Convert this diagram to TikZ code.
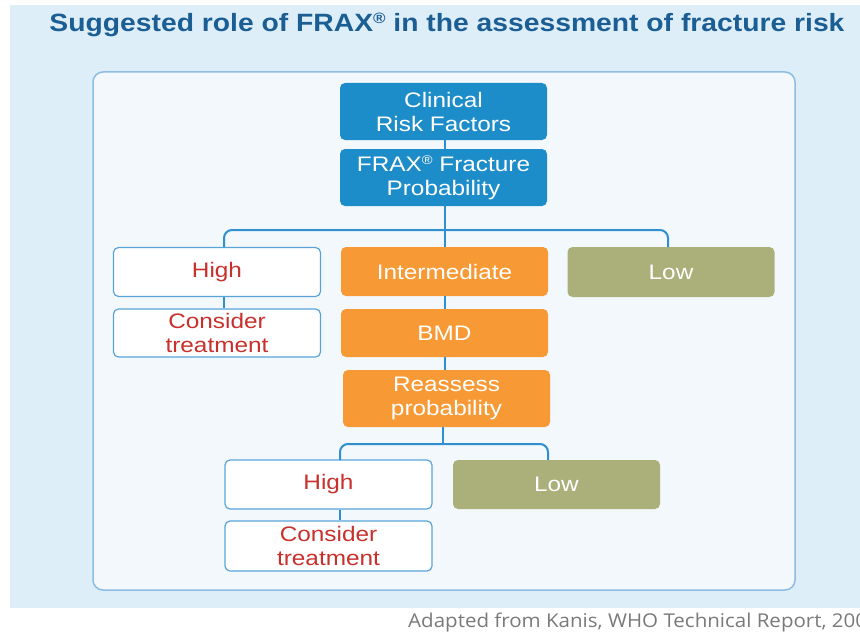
\documentclass[tikz,border=0pt]{standalone}
\usepackage{fontspec}
\usepackage{graphicx}
\setmainfont{Liberation Sans}
\newfontfamily\boxfont[FakeStretch=1.16]{Liberation Sans}
\newfontfamily\notefont[FakeStretch=1.08]{Open Sans}
\newcommand{\regmark}{\raisebox{0.62ex}{\scalebox{0.6}{\textregistered}}}

\definecolor{panelbg}{HTML}{DDEEF9}
\definecolor{innerbg}{HTML}{F3F8FD}
\definecolor{innerline}{HTML}{8DBDE3}
\definecolor{titleblue}{HTML}{1B5E93}
\definecolor{boxblue}{HTML}{1D8DC9}
\definecolor{boxorange}{HTML}{F79A36}
\definecolor{boxolive}{HTML}{ABB07B}
\definecolor{riskred}{HTML}{C8302C}
\definecolor{wireblue}{HTML}{2F8FD0}
\definecolor{edgeblue}{HTML}{5AA3D9}
\definecolor{notegray}{HTML}{7A7A7A}

\tikzset{
  card/.style={rounded corners=5pt, minimum width=207pt, inner sep=0pt,
    align=center, font=\boxfont\fontsize{21}{24}\selectfont},
  bluecard/.style={card, fill=boxblue, text=white, minimum height=57pt},
  orangecard/.style={card, fill=boxorange, text=white},
  olivecard/.style={card, fill=boxolive, text=white, minimum height=50pt},
  whitecard/.style={card, fill=white, draw=edgeblue, line width=1.2pt, text=riskred, minimum height=49pt},
  wire/.style={draw=wireblue, line width=2pt},
}

\begin{document}
\begin{tikzpicture}[x=1pt, y=-1pt]
  \useasboundingbox (0,0) rectangle (860,634);
  % page backdrop
  \fill[white] (0,0) rectangle (860,634);
  \fill[panelbg] (10,5) rectangle (860,608);
  % inner frame
  \draw[innerline, fill=innerbg, line width=1.5pt, rounded corners=10pt] (93,72) rectangle (795,590);

  % heading
  \node[text=titleblue, font=\bfseries\fontsize{25}{30}\selectfont] (title) at (447,25)
    {\resizebox{795pt}{\height}{Suggested role of FRAX\regmark{} in the assessment of fracture risk}};

  % top chain
  \node[bluecard] (crf) at (443.5,111.5) {Clinical\\Risk Factors};
  \node[bluecard] (frax) at (443.5,177.5) {FRAX\regmark{} Fracture\\Probability};

  % first branch level
  \node[whitecard] (high1) at (217,272) {High};
  \node[orangecard, minimum height=49pt] (inter) at (444.5,271.5) {Intermediate};
  \node[olivecard] (low1) at (671,272) {Low};

  \node[whitecard, minimum height=48pt] (treat1) at (217,333) {Consider\\treatment};
  \node[orangecard, minimum height=48pt] (bmd) at (444.5,333) {BMD};
  \node[orangecard, minimum height=57pt] (reass) at (446.5,398.5) {Reassess\\probability};

  % second branch level
  \node[whitecard] (high2) at (328.5,484.5) {High};
  \node[olivecard, minimum height=49pt] (low2) at (556.5,484.5) {Low};
  \node[whitecard, minimum height=50pt] (treat2) at (328.5,546) {Consider\\treatment};

  % connector anchor points
  \coordinate (j1) at (445,230);
  \coordinate (h1top) at (224,247);
  \coordinate (l1top) at (668,247);
  \coordinate (j2) at (443,444);
  \coordinate (h2top) at (340,460);
  \coordinate (l2top) at (548,460);

  % connectors
  \draw[wire] (crf.south -| j1) -- (frax.north -| j1);
  \draw[wire] (frax.south -| j1) -- (inter.north -| j1);
  \draw[wire, rounded corners=8pt] (h1top) |- (j1) -| (l1top);
  \draw[wire] (high1.south -| h1top) -- (treat1.north -| h1top);
  \draw[wire] (inter.south -| j1) -- (bmd.north -| j1);
  \draw[wire] (bmd.south -| j1) -- (reass.north -| j1);
  \draw[wire] (reass.south -| j2) -- (j2);
  \draw[wire, rounded corners=8pt] (h2top) |- (j2) -| (l2top);
  \draw[wire] (high2.south -| h2top) -- (treat2.north -| h2top);

  % source note
  \node[anchor=west, text=notegray, font=\notefont\fontsize{19}{22}\selectfont, inner sep=0pt] (note) at (408,623)
    {Adapted from Kanis, WHO Technical Report, 2007};
\end{tikzpicture}
\end{document}
